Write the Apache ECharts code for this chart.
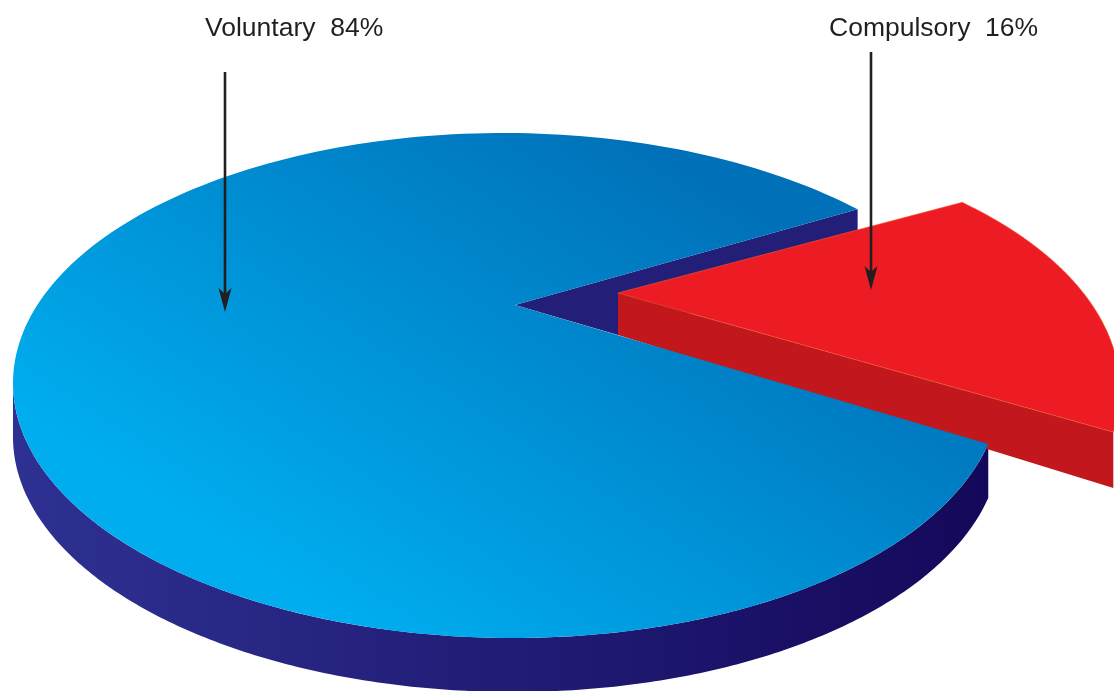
<!DOCTYPE html>
<html><head><meta charset="utf-8">
<style>html,body{margin:0;padding:0;background:#fff}#c{width:1114px;height:691px}</style>
<script src="https://cdn.jsdelivr.net/npm/echarts@6/dist/echarts.min.js"></script>
</head><body><div id="c"></div>
<script>
const categories = ['Voluntary', 'Compulsory'];
const values = [84, 16];
const labels = ['Voluntary  84%', 'Compulsory  16%'];

const MAIN = {cx:508.5, cy:385.5, rxL:495.5, rxR:492, ry:252.5, skew:0, tilt:-2.5, apex:[515,305], depth:54, start:44.8};
const RED  = {cx:643, cy:390, rxL:477, rxR:477, ry:252.5, skew:0, tilt:0, apex:[618,293], depthApex:42, depthEdge:56, start:48};

function pt(e, deg){
  const t = deg*Math.PI/180, c = Math.cos(t), s = Math.sin(t);
  return [e.cx + (c<0?e.rxL:e.rxR)*c - e.skew*s, e.cy - e.ry*s - e.tilt*c];
}
function arc(e, a, b, dy){
  const n = 240, out = [];
  for(let i=0;i<=n;i++){ const p = pt(e, a+(b-a)*i/n); out.push([p[0], p[1]+(dy||0)]); }
  return out;
}
function grad(x,y,x2,y2,c0,c1){ return new echarts.graphic.LinearGradient(x,y,x2,y2,[{offset:0,color:c0},{offset:1,color:c1}],true); }
function poly(points, fill, z2){
  return {type:'polygon', shape:{points}, style:{fill}, z2};
}

function renderItem(params, api){
  const total = values.reduce((a,b)=>a+b,0);
  const sweep = api.value(0)/total*360;
  const els = [];
  if(params.dataIndex===0){
    const a0 = MAIN.start, a1 = MAIN.start + sweep;
    const wallEnd = pt(MAIN,a0);
    els.push(poly([MAIN.apex, wallEnd, [wallEnd[0],wallEnd[1]+MAIN.depth], [RED.apex[0],RED.apex[1]+RED.depthApex]], '#231f78', 1));
    const top = arc(MAIN, 180, a1), bot = arc(MAIN, a1, 180, MAIN.depth);
    els.push(poly(top.concat(bot), grad(13,0,988,0,'#2e3192','#14085a'), 2));
    els.push(poly([MAIN.apex].concat(arc(MAIN,a0,a1)), grad(330,620,640,140,'#00aeef','#0071b9'), 6));
  } else {
    const a1 = RED.start, a0 = RED.start - sweep;
    const e0 = pt(RED,a0);
    els.push(poly([RED.apex, e0, [e0[0],e0[1]+RED.depthEdge], [RED.apex[0],RED.apex[1]+RED.depthApex]], '#c1171d', 3));
    const face = poly([RED.apex].concat(arc(RED,a0,a1)), '#ed1c24', 4);
    face.style.stroke = '#f15a29'; face.style.lineWidth = 0.6;
    els.push(face);
  }
  return {type:'group', children:els};
}

const arrows = [[225,72,312],[871,52,290]];
const labelPos = [[205,29],[829,29]];
function arrowGraphic(a){
  const [x,y0,y1] = a;
  return [
    {type:'line', z:20, shape:{x1:x,y1:y0,x2:x,y2:y1-12}, style:{stroke:'#231f20',lineWidth:2.6}},
    {type:'polygon', z:20, shape:{points:[[x-6.5,y1-24],[x,y1-18],[x+6.5,y1-24],[x,y1]]}, style:{fill:'#231f20'}}
  ];
}
const chart = echarts.init(document.getElementById('c'), null, {renderer:'canvas'});
chart.setOption({
  animation:false,
  backgroundColor:'#fff',
  series:[{
    type:'custom', coordinateSystem:'none', silent:true, renderItem,
    data: categories.map((n,i)=>({name:n, value:[values[i]]})),
    clip:false
  }],
  graphic: [].concat(
    labels.map((t,i)=>({type:'text', z:20, x:labelPos[i][0], y:labelPos[i][1],
      style:{text:t, fill:'#231f20', fontFamily:'Liberation Sans', fontSize:26.5, verticalAlign:'middle'}})),
    ...arrows.map(arrowGraphic)
  )
});
</script></body></html>
